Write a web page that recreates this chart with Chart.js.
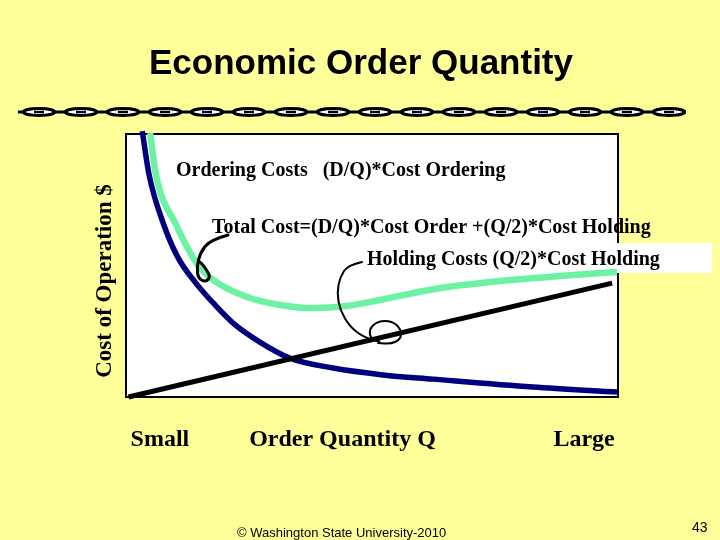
<!DOCTYPE html>
<html>
<head>
<meta charset="utf-8">
<title>Economic Order Quantity</title>
<script src="https://cdn.jsdelivr.net/npm/chart.js@4.4.1/dist/chart.umd.min.js"></script>
<style>
    html, body { margin: 0; padding: 0; background: #FFFF99; }
    #slide { position: relative; width: 720px; height: 540px; overflow: hidden; }
    #eoqChart { position: absolute; left: 0; top: 0; }
    .chain { position: absolute; left: 18px; top: 106px; }
    #slideTitle {
        position: absolute; left: 0; top: 42px; width: 722px; text-align: center;
        font-family: "Liberation Sans", Arial, sans-serif; font-weight: bold; font-size: 35px; line-height: 40px; color: #000;
    }
    .footer { position: absolute; font-family: "Liberation Sans", Arial, sans-serif; color: #000; white-space: nowrap; }
    #credit { left: 237px; top: 525px; font-size: 13px; line-height: 15px; }
    #pageNo { left: 692px; top: 519px; font-size: 14px; line-height: 16px; }
</style>
</head>
<body>
<div id="slide">
    <canvas id="eoqChart" width="720" height="540"></canvas>
    <div id="slideTitle">Economic Order Quantity</div>
    <svg class="chain" width="672" height="12" viewBox="0 0 672 12">
        <defs>
            <pattern id="link" width="42" height="12" patternUnits="userSpaceOnUse">
                <line x1="0" y1="6" x2="42" y2="6" stroke="#000" stroke-width="3"/>
                <ellipse cx="21" cy="6" rx="15.5" ry="3.4" fill="#fff" stroke="#000" stroke-width="3"/>
                <rect x="16" y="4.8" width="10" height="2.4" fill="#000"/>
            </pattern>
        </defs>
        <rect x="0" y="0" width="668" height="12" fill="url(#link)"/>
    </svg>
    <div class="footer" id="credit">© Washington State University-2010</div>
    <div class="footer" id="pageNo">43</div>
</div>

<script>
// Curves (x = order quantity, y = cost, both on a 0-100 scale)
const orderingQ    = [3.3, 4.7, 7.7, 10.6, 14.2, 18.1, 22.2, 27.2, 33.3, 42.1, 52.2, 62.4, 82.7, 99.8];
const orderingCost = [101.1, 84.4, 65.4, 52.9, 43.3, 35.0, 27.4, 20.9, 14.8, 11.0, 8.4, 6.8, 3.8, 1.9];

const totalQ    = [4.9, 6.1, 10.2, 14.6, 17.7, 24.6, 31.3, 38.0, 44.9, 51.6, 58.3, 65.2, 76.0, 88.2, 99.8];
const totalCost = [100.4, 84.4, 65.4, 50.2, 44.5, 38.0, 35.0, 33.8, 34.6, 36.9, 39.5, 41.8, 44.1, 46.0, 47.5];

const holdingQ    = [0.5, 98.8];
const holdingCost = [0, 43.3];

// Axis words under the frame
const xTickValues = [6.9, 44.0, 93.1];
const xTickLabels = ['Small', 'Order Quantity Q', 'Large'];

const SERIF = '"Liberation Serif", "Times New Roman", serif';

function toPoints(xs, ys) {
    return xs.map((x, i) => ({ x: x, y: ys[i] }));
}

// smooth freehand stroke through a list of [dx, dy] offsets
function scribble(ctx, pts, ox, oy) {
    ctx.beginPath();
    ctx.moveTo(ox + pts[0][0], oy + pts[0][1]);
    for (let i = 1; i < pts.length - 1; i++) {
        const mx = (pts[i][0] + pts[i + 1][0]) / 2;
        const my = (pts[i][1] + pts[i + 1][1]) / 2;
        ctx.quadraticCurveTo(ox + pts[i][0], oy + pts[i][1], ox + mx, oy + my);
    }
    const last = pts[pts.length - 1];
    ctx.lineTo(ox + last[0], oy + last[1]);
    ctx.stroke();
}

const slideDecor = {
    id: 'slideDecor',
    beforeDatasetsDraw(chart) {
        const { ctx, chartArea: a } = chart;
        ctx.save();
        ctx.fillStyle = '#fff';
        ctx.fillRect(a.left, a.top, a.width, a.height);
        ctx.lineWidth = 2;
        ctx.strokeStyle = '#000';
        ctx.strokeRect(a.left, a.top, a.width, a.height);
        // white backing behind the holding-cost label, it spills past the frame
        ctx.fillRect(a.left + 236, a.top + 109, 350, 30);
        ctx.restore();
    },
    afterDatasetsDraw(chart) {
        const { ctx, chartArea: a } = chart;
        ctx.save();
        ctx.fillStyle = '#000';
        ctx.textBaseline = 'alphabetic';
        ctx.textAlign = 'left';
        ctx.font = 'bold 20px ' + SERIF;
        ctx.fillText('Ordering Costs   (D/Q)*Cost Ordering', a.left + 50, a.top + 42);
        ctx.fillText('Total Cost=(D/Q)*Cost Order +(Q/2)*Cost Holding', a.left + 86, a.top + 99);
        ctx.fillText('Holding Costs (Q/2)*Cost Holding', a.left + 241, a.top + 131);

        // hand drawn pointers
        ctx.strokeStyle = '#000';
        ctx.lineCap = 'round';
        ctx.lineJoin = 'round';
        ctx.lineWidth = 3;
        scribble(ctx, [[102, 101], [84, 106], [74, 119], [71, 133], [72, 144], [79, 148], [84, 144], [82, 138], [77, 131], [74, 128]], a.left, a.top);
        ctx.lineWidth = 2;
        scribble(ctx, [[236, 128], [222, 131], [214, 143], [211, 159], [214, 176], [224, 193], [239, 204], [257, 208],
                       [245, 206], [243, 195], [252, 187], [266, 187], [275, 195], [275, 205], [265, 210], [252, 209]], a.left, a.top);

        // vertical axis title
        ctx.translate(a.left - 21, a.top + 147);
        ctx.rotate(-Math.PI / 2);
        ctx.textAlign = 'center';
        ctx.textBaseline = 'middle';
        ctx.font = 'bold 23px ' + SERIF;
        ctx.fillText('Cost of Operation $', 0, 0);
        ctx.restore();
    }
};

document.addEventListener('DOMContentLoaded', function() {
    const canvas = document.getElementById('eoqChart');

    new Chart(canvas, {
        type: 'line',
        data: {
            datasets: [
                {
                    label: 'Holding Costs',
                    data: toPoints(holdingQ, holdingCost),
                    borderColor: '#000000',
                    borderWidth: 5,
                    pointRadius: 0,
                    clip: false
                },
                {
                    label: 'Ordering Costs',
                    data: toPoints(orderingQ, orderingCost),
                    borderColor: '#00007F',
                    borderWidth: 5.5,
                    pointRadius: 0,
                    cubicInterpolationMode: 'monotone',
                    clip: false
                },
                {
                    label: 'Total Cost',
                    data: toPoints(totalQ, totalCost),
                    borderColor: '#6CF2A2',
                    borderWidth: 6.5,
                    pointRadius: 0,
                    cubicInterpolationMode: 'monotone',
                    clip: false
                }
            ]
        },
        options: {
            responsive: false,
            animation: false,
            layout: {
                padding: { left: 126, right: 102, top: 134, bottom: 83 }
            },
            plugins: {
                legend: { display: false },
                tooltip: { enabled: false },
                title: { display: false }
            },
            scales: {
                x: {
                    type: 'linear',
                    min: 0,
                    max: 100,
                    afterBuildTicks: axis => {
                        axis.ticks = xTickValues.map(v => ({ value: v }));
                    },
                    afterFit: axis => { axis.height = 60; },
                    ticks: {
                        autoSkip: false,
                        maxRotation: 0,
                        padding: 28,
                        color: '#000',
                        font: { family: SERIF, size: 24, weight: 'bold' },
                        callback: (value, index) => xTickLabels[index]
                    },
                    grid: { display: false, drawTicks: false },
                    border: { display: false }
                },
                y: {
                    display: false,
                    min: 0,
                    max: 100
                }
            }
        },
        plugins: [slideDecor]
    });
});
</script>
</body>
</html>
